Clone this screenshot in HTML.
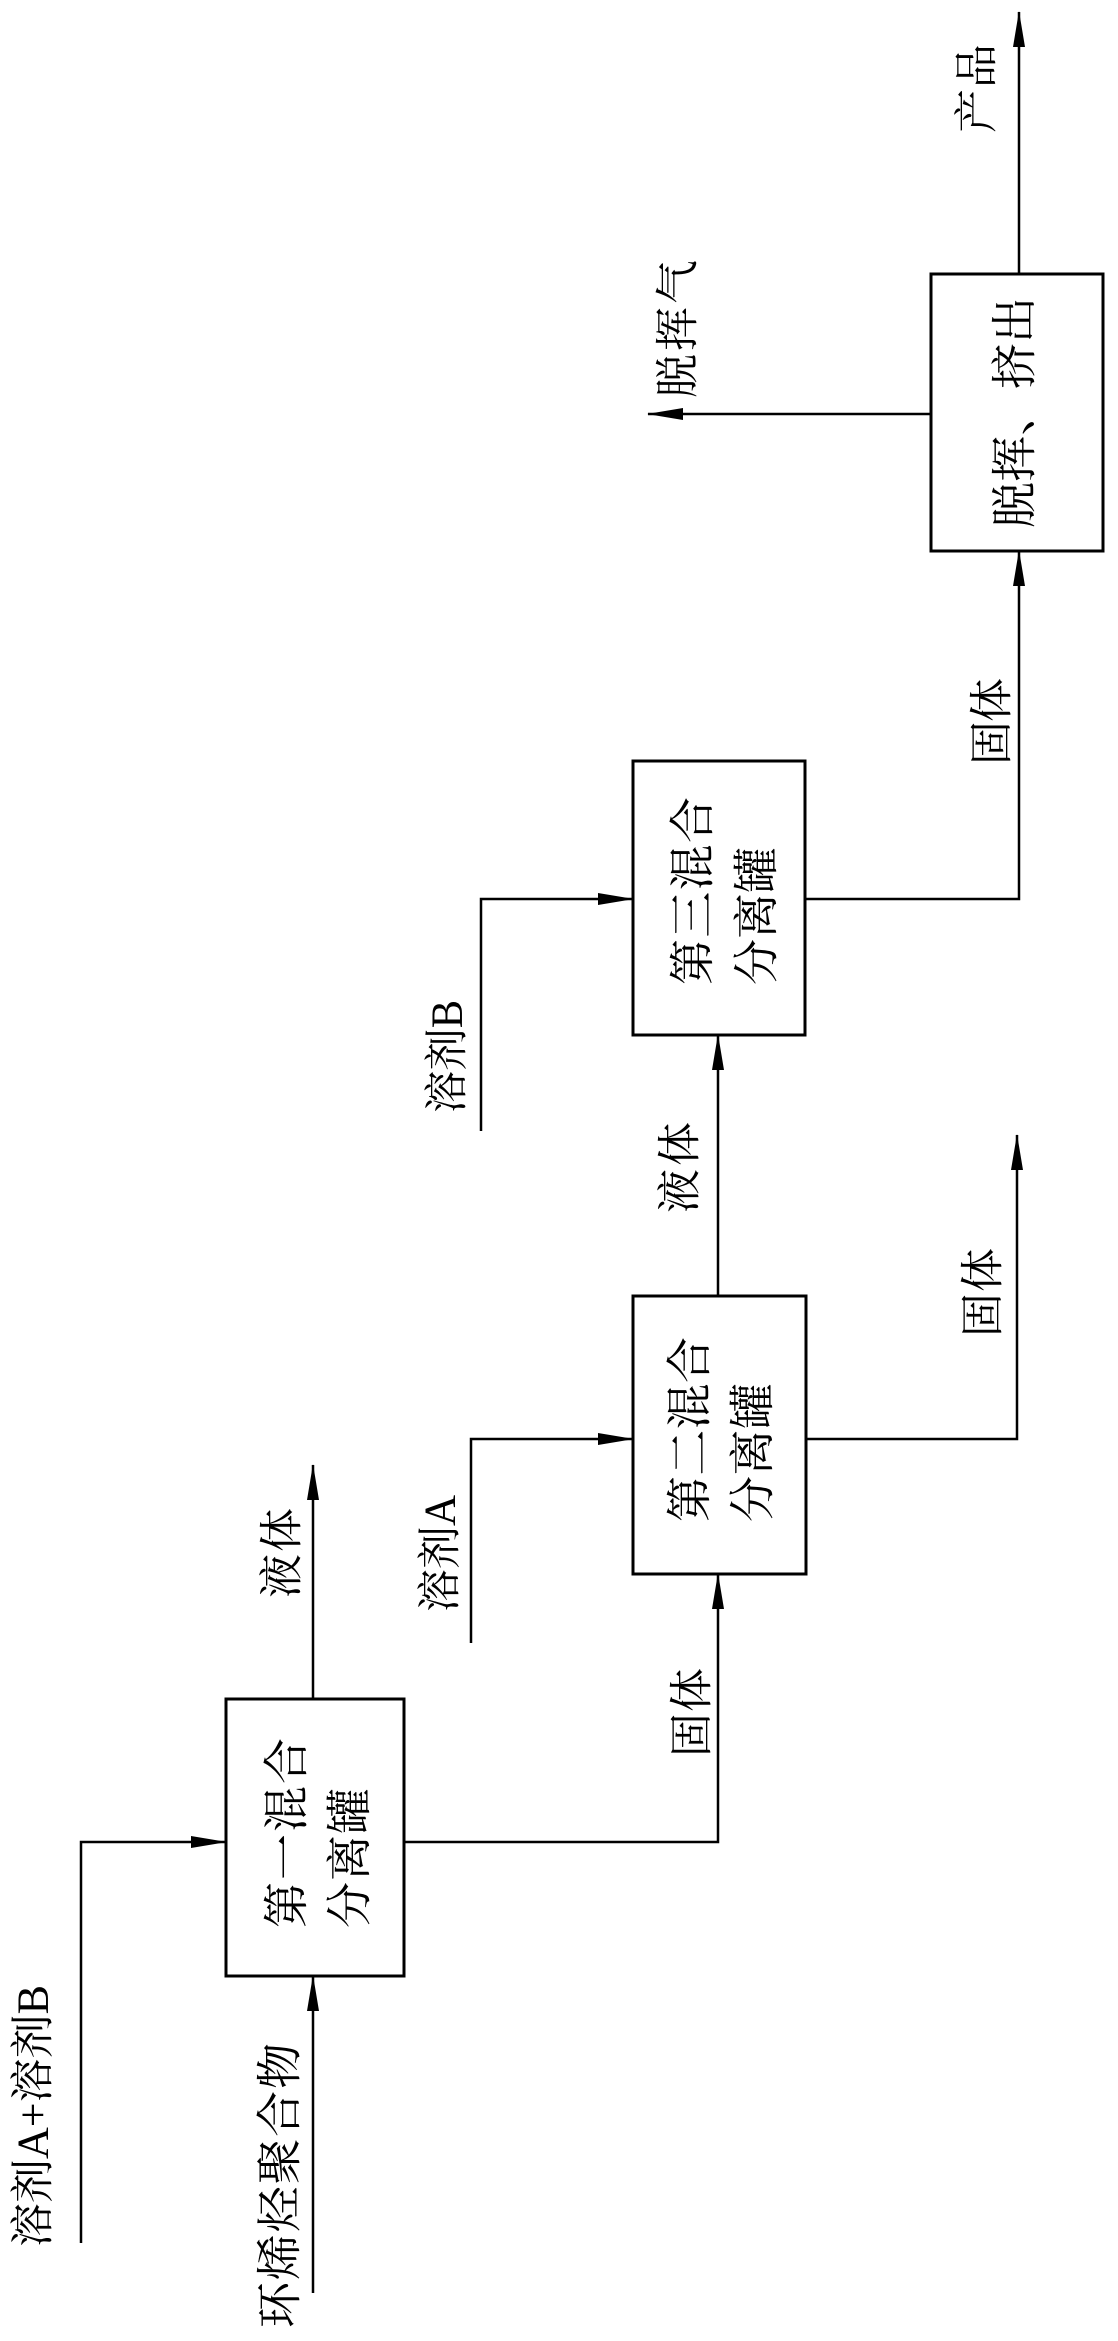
<!DOCTYPE html>
<html><head><meta charset="utf-8"><style>
html,body{margin:0;padding:0;background:#fff;}
svg{display:block;}
text{font-family:"Liberation Serif","Noto Serif CJK SC","Noto Sans CJK SC",serif;fill:#000;}
</style></head><body>
<svg width="1118" height="2341" viewBox="0 0 1118 2341" xmlns="http://www.w3.org/2000/svg">
<defs>
<marker id="a" markerWidth="36" markerHeight="14" refX="35" refY="7" orient="auto" markerUnits="userSpaceOnUse">
<path d="M0,1 L36,7 L0,13 Z" fill="#000"/>
</marker>
</defs>
<g fill="none" stroke="#000" stroke-width="3">
<rect x="226" y="1699" width="178" height="277"/>
<rect x="633" y="1296" width="173" height="278"/>
<rect x="633" y="761" width="172" height="274"/>
<rect x="931" y="274" width="172" height="277"/>
</g>
<g fill="none" stroke="#000" stroke-width="2.5" marker-end="url(#a)">
<path d="M81 2243 V1842 H226"/>
<path d="M313 2293 V1976"/>
<path d="M313 1699 V1465"/>
<path d="M404 1842 H718 V1574"/>
<path d="M471 1643 V1439 H633"/>
<path d="M806 1439 H1017 V1135"/>
<path d="M718 1296 V1035"/>
<path d="M481 1131 V899 H633"/>
<path d="M805 899 H1019 V551"/>
<path d="M1019 274 V12"/>
<path d="M931 414 H648"/>
</g>
<g font-size="44" dominant-baseline="central">
<text transform="translate(33,2247) rotate(-90)" textLength="262" lengthAdjust="spacingAndGlyphs">溶剂A+溶剂B</text>
<text transform="translate(280,2328) rotate(-90)" textLength="285" lengthAdjust="spacing" font-size="46">环烯烃聚合物</text>
<text transform="translate(282,1598) rotate(-90)" textLength="90" lengthAdjust="spacing">液体</text>
<text transform="translate(692,1757) rotate(-90)" textLength="89" lengthAdjust="spacing">固体</text>
<text transform="translate(440,1612) rotate(-90)" textLength="117" lengthAdjust="spacingAndGlyphs">溶剂A</text>
<text transform="translate(680,1213) rotate(-90)" textLength="91" lengthAdjust="spacing">液体</text>
<text transform="translate(983,1337) rotate(-90)" textLength="89" lengthAdjust="spacing">固体</text>
<text transform="translate(447,1113) rotate(-90)" textLength="113" lengthAdjust="spacingAndGlyphs">溶剂B</text>
<text transform="translate(992,765) rotate(-90)" textLength="87" lengthAdjust="spacing">固体</text>
<text transform="translate(678,398) rotate(-90)" textLength="138" lengthAdjust="spacing">脱挥气</text>
<text transform="translate(977,133) rotate(-90)" textLength="89" lengthAdjust="spacing">产品</text>
<text transform="translate(287,1928) rotate(-90)" textLength="190" lengthAdjust="spacing" font-size="46">第一混合</text>
<text transform="translate(350,1928) rotate(-90)" textLength="140" lengthAdjust="spacing" font-size="46">分离罐</text>
<text transform="translate(690,1522) rotate(-90)" textLength="185" lengthAdjust="spacing" font-size="46">第二混合</text>
<text transform="translate(753,1522) rotate(-90)" textLength="139" lengthAdjust="spacing" font-size="46">分离罐</text>
<text transform="translate(693,985) rotate(-90)" textLength="188" lengthAdjust="spacing" font-size="46">第三混合</text>
<text transform="translate(757,985) rotate(-90)" textLength="138" lengthAdjust="spacing" font-size="46">分离罐</text>
<text transform="translate(1015,528) rotate(-90)" textLength="231" lengthAdjust="spacing" font-size="46">脱挥、挤出</text>
</g>
</svg>
</body></html>
